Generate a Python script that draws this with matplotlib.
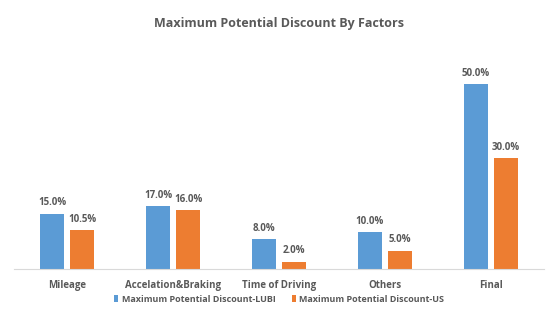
import matplotlib
matplotlib.use('Agg')
import matplotlib.pyplot as plt
import numpy as np

factors = ['Mileage', 'Accelation&Braking', 'Time of Driving', 'Others', 'Final']
lubi = [15.0, 17.0, 8.0, 10.0, 50.0]
us = [10.5, 16.0, 2.0, 5.0, 30.0]
series_names = ['Maximum Potential Discount-LUBI', 'Maximum Potential Discount-US']

blue = '#5B9BD5'
orange = '#ED7D31'
grey = '#595959'

plt.rcParams['font.family'] = ['Open Sans', 'DejaVu Sans']

fig = plt.figure(figsize=(5.58, 3.26), dpi=100)
ax = fig.add_axes([14/558, 57/326, 530/558, 205/326])

x = np.arange(len(factors))
w = 0.22
b1 = ax.bar(x - 0.142, lubi, w, color=blue, label=series_names[0])
b2 = ax.bar(x + 0.142, us, w, color=orange, label=series_names[1])

for bars, vals in ((b1, lubi), (b2, us)):
    for r, v in zip(bars, vals):
        ax.text(r.get_x() + r.get_width()/2, v + 1.4, '%.1f%%' % v,
                ha='center', va='bottom', fontsize=7, fontweight='bold', color=grey)

ax.set_xlim(-0.5, 4.5)
ax.set_ylim(0, 55.5)
ax.set_yticks([])
ax.set_xticks(x)
ax.set_xticklabels(factors, fontsize=7, fontweight='bold', color=grey)
ax.tick_params(axis='x', length=0, pad=8)
for s in ['top', 'right', 'left']:
    ax.spines[s].set_visible(False)
ax.spines['bottom'].set_color('#D9D9D9')

fig.text(0.5, 1 - 24/326, 'Maximum Potential Discount By Factors', ha='center', va='center',
         fontsize=9, fontweight='bold', color=grey)

leg = fig.legend(loc='center', bbox_to_anchor=(0.5, 1 - 299/326), ncol=2, frameon=False,
                 handlelength=0.5, handleheight=0.9, handletextpad=0.35, columnspacing=1.8,
                 prop={'weight': 'bold', 'size': 6.5})
for t in leg.get_texts():
    t.set_color(grey)

fig.savefig('out.png', dpi=100)
